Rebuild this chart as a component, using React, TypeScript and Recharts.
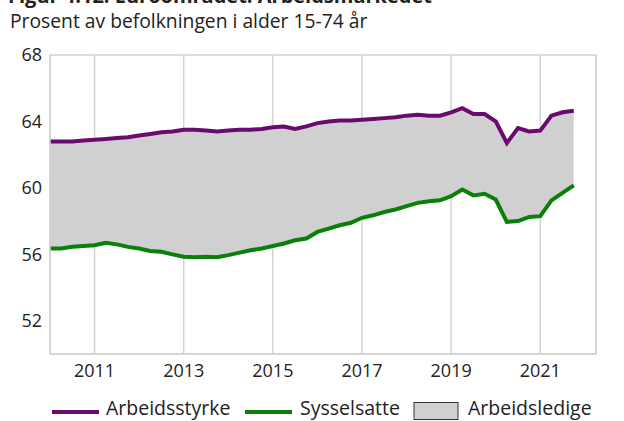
import React from 'react';
import { ComposedChart, Area, Line, XAxis, YAxis, CartesianGrid } from 'recharts';

// Kvartal 2010K1 - 2021K4
const quarters = [
  '2010K1', '2010K2', '2010K3', '2010K4', '2011K1', '2011K2', '2011K3', '2011K4',
  '2012K1', '2012K2', '2012K3', '2012K4', '2013K1', '2013K2', '2013K3', '2013K4',
  '2014K1', '2014K2', '2014K3', '2014K4', '2015K1', '2015K2', '2015K3', '2015K4',
  '2016K1', '2016K2', '2016K3', '2016K4', '2017K1', '2017K2', '2017K3', '2017K4',
  '2018K1', '2018K2', '2018K3', '2018K4', '2019K1', '2019K2', '2019K3', '2019K4',
  '2020K1', '2020K2', '2020K3', '2020K4', '2021K1', '2021K2', '2021K3', '2021K4',
];

const arbeidsstyrke = [
  62.8, 62.8, 62.8, 62.85, 62.9, 62.95, 63.0, 63.05,
  63.15, 63.25, 63.35, 63.4, 63.5, 63.5, 63.45, 63.4,
  63.45, 63.5, 63.5, 63.55, 63.65, 63.7, 63.55, 63.7,
  63.9, 64.0, 64.05, 64.05, 64.1, 64.15, 64.2, 64.25,
  64.35, 64.4, 64.35, 64.35, 64.55, 64.8, 64.45, 64.45,
  64.0, 62.7, 63.6, 63.4, 63.45, 64.35, 64.55, 64.65,
];

const sysselsatte = [
  56.35, 56.35, 56.45, 56.5, 56.55, 56.7, 56.6, 56.45,
  56.35, 56.2, 56.15, 56.0, 55.85, 55.82, 55.85, 55.82,
  55.95, 56.1, 56.25, 56.35, 56.5, 56.65, 56.85, 56.95,
  57.35, 57.55, 57.75, 57.9, 58.2, 58.35, 58.55, 58.7,
  58.9, 59.1, 59.2, 59.25, 59.5, 59.9, 59.55, 59.65,
  59.3, 57.95, 58.0, 58.25, 58.3, 59.25, 59.7, 60.15,
];

const yTicks = [52, 56, 60, 64, 68];
const xTickLabels = ['2011', '2013', '2015', '2017', '2019', '2021'];

const PURPLE = '#6a0a6e';
const GREEN = '#0a800a';
const GREY = '#d0d0d0';
const GRID = '#d2d2d2';
const FONT = '"Open Sans", sans-serif';

const data = quarters.map((q, i) => ({
  i,
  q,
  arbeidsstyrke: arbeidsstyrke[i],
  sysselsatte: sysselsatte[i],
  ledige: [sysselsatte[i], arbeidsstyrke[i]],
}));

const xTicks = xTickLabels.map((y) => quarters.indexOf(y + 'K1'));

export default function App() {
  const tick = { fill: '#222', fontSize: 18, fontFamily: FONT };
  return (
    <div style={{ position: 'absolute', left: 0, top: 0, width: 624, height: 421, background: '#fff', overflow: 'hidden', fontFamily: FONT }}>
      <svg width={624} height={421} style={{ position: 'absolute', left: 0, top: 0 }}>
        <text x={8} y={3} fontSize={20} fontWeight={700} fill="#222" fontFamily={FONT}>
          Figur 4.12. Euroområdet. Arbeidsmarkedet
        </text>
        <text x={10} y={28} fontSize={19.3} fill="#222" fontFamily={FONT}>
          Prosent av befolkningen i alder 15-74 år
        </text>
        <line x1={52} x2={99} y1={412} y2={412} stroke={PURPLE} strokeWidth={4} />
        <text x={106} y={415} fontSize={19.5} fill="#222" fontFamily={FONT}>Arbeidsstyrke</text>
        <line x1={245} x2={292} y1={412} y2={412} stroke={GREEN} strokeWidth={4} />
        <text x={300} y={415} fontSize={19.5} fill="#222" fontFamily={FONT}>Sysselsatte</text>
        <rect x={414} y={402.5} width={44} height={17} fill={GREY} stroke="#333" strokeWidth={1} />
        <text x={468} y={415} fontSize={19.5} fill="#222" fontFamily={FONT}>Arbeidsledige</text>
      </svg>
      <div style={{ position: 'absolute', left: 0, top: 0 }}>
        <ComposedChart width={624} height={392} data={data} margin={{ top: 55, right: 0, bottom: 6, left: 0 }}>
          <CartesianGrid stroke={GRID} strokeWidth={1.5} />
          <XAxis
            dataKey="i"
            type="number"
            domain={[0, 49]}
            ticks={xTicks}
            tickFormatter={(v: number) => quarters[v].slice(0, 4)}
            tickLine={false}
            tickMargin={4}
            height={32}
            stroke={GRID}
            axisLine={{ stroke: GRID, strokeWidth: 1.5 }}
            tick={tick}
          />
          <YAxis
            yAxisId="left"
            domain={[50, 68]}
            ticks={yTicks}
            width={50}
            tickLine={false}
            axisLine={{ stroke: GRID, strokeWidth: 1.5 }}
            tick={tick}
          />
          <YAxis
            yAxisId="right"
            orientation="right"
            domain={[50, 68]}
            ticks={yTicks}
            width={28}
            tickLine={false}
            axisLine={{ stroke: GRID, strokeWidth: 1.5 }}
            tick={tick}
          />
          <Area yAxisId="left" dataKey="ledige" fill={GREY} fillOpacity={1} stroke="none" isAnimationActive={false} />
          <Line yAxisId="left" dataKey="arbeidsstyrke" stroke={PURPLE} strokeWidth={4} dot={false} isAnimationActive={false} />
          <Line yAxisId="left" dataKey="sysselsatte" stroke={GREEN} strokeWidth={4} dot={false} isAnimationActive={false} />
        </ComposedChart>
      </div>
    </div>
  );
}
